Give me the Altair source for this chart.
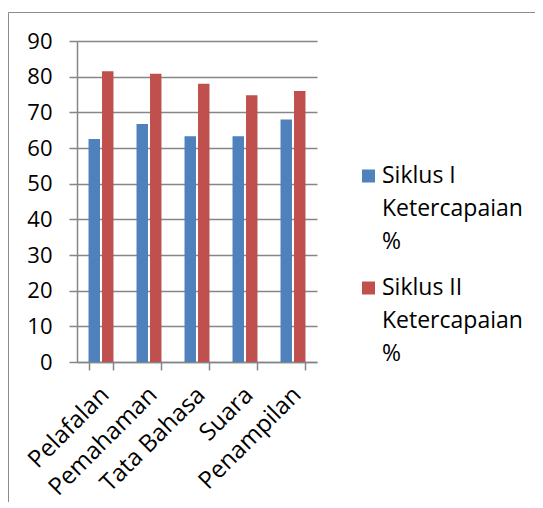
import altair as alt
import pandas as pd

categories = ["Pelafalan", "Pemahaman", "Tata Bahasa", "Suara", "Penampilan"]
series_names = ["Siklus I Ketercapaian %", "Siklus II Ketercapaian %"]
legend_labels = ["Siklus I\nKetercapaian\n%", "Siklus II\nKetercapaian\n%"]
siklus1 = [62.5, 66.7, 63.3, 63.3, 68.0]
siklus2 = [81.5, 80.8, 78.0, 74.8, 76.0]
y_ticks = [0, 10, 20, 30, 40, 50, 60, 70, 80, 90]
colors = ["#4F81BD", "#C0504D"]

rows = []
for c, a, b in zip(categories, siklus1, siklus2):
    rows.append({"category": c, "series": series_names[0], "value": a})
    rows.append({"category": c, "series": series_names[1], "value": b})
df = pd.DataFrame(rows)
leg = pd.DataFrame({"series": series_names, "label": legend_labels})

font = "Open Sans"
gray = "#868686"

color_enc = alt.Color("series:N", sort=series_names,
                      scale=alt.Scale(domain=series_names, range=colors), legend=None)

bars = alt.Chart(df).mark_bar().encode(
    x=alt.X("category:N", sort=categories, title=None,
            scale=alt.Scale(paddingInner=0.48, paddingOuter=0.24),
            axis=alt.Axis(labelAngle=-45, labelAlign="right", labelBaseline="middle",
                          tickBand="extent", tickSize=8, labelPadding=21, labelOffset=4,
                          domainColor=gray, tickColor=gray, domainWidth=1.5, tickWidth=1.5,
                          labelFontSize=24, labelFont=font, labelColor="black", grid=False)),
    xOffset=alt.XOffset("series:N", sort=series_names, scale=alt.Scale(paddingInner=0.15)),
    y=alt.Y("value:Q", title=None, scale=alt.Scale(domain=[0, 90], nice=False),
            axis=alt.Axis(values=y_ticks, tickSize=8, labelPadding=17, grid=True,
                          gridColor=gray, gridWidth=1.5, domainColor=gray, domainWidth=1.5,
                          tickColor=gray, tickWidth=1.5, labelFontSize=22, labelFont=font,
                          labelColor="black")),
    color=color_enc,
)

leg_y = alt.Y("series:N", sort=series_names,
              scale=alt.Scale(type="point", range=[135, 247], padding=0), axis=None)

leg_sq = alt.Chart(leg).mark_square(size=169, opacity=1).encode(
    x=alt.value(291.5), y=leg_y, color=color_enc)

leg_tx = alt.Chart(leg).mark_text(align="left", baseline="alphabetic", dy=7, lineBreak="\n",
                                  lineHeight=33, fontSize=23, font=font, color="black").encode(
    x=alt.value(305), y=leg_y, text="label:N")

frame_df = pd.DataFrame({"k": [0]})
frame_v = alt.Chart(frame_df).mark_rule(color="#8c8c8c", strokeWidth=1).encode(
    x=alt.value(-68.5), y=alt.value(-28.5), y2=alt.value(480))
frame_h = alt.Chart(frame_df).mark_rule(color="#8c8c8c", strokeWidth=1).encode(
    x=alt.value(-68.5), x2=alt.value(480), y=alt.value(-28.5))

chart = alt.layer(frame_v, frame_h, bars, leg_sq, leg_tx).resolve_scale(
    y="independent"
).properties(
    width=240, height=321,
    autosize=alt.AutoSizeParams(type="none"),
    padding={"left": 69, "top": 33, "right": 218, "bottom": 140},
).configure_view(stroke=None)

chart.save("out.html", embed_options={"renderer": "svg", "actions": False})
